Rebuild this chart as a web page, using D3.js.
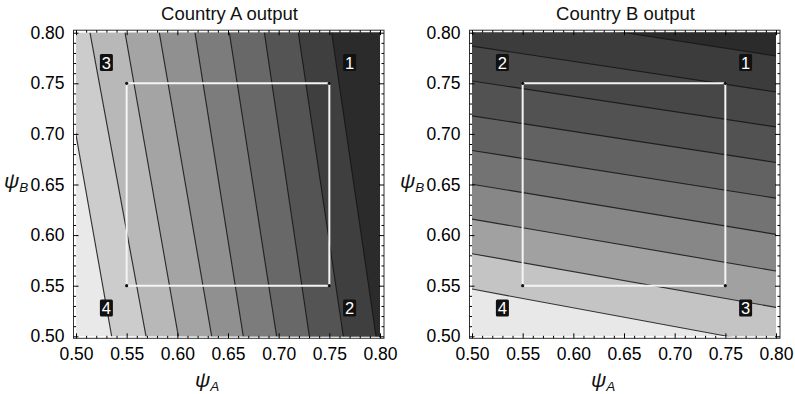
<!DOCTYPE html>
<html>
<head>
<meta charset="utf-8">
<script src="https://cdn.jsdelivr.net/npm/d3@7"></script>
<style>
  html, body { margin: 0; padding: 0; background: #fff; }
  svg { display: block; }
  text { font-family: "Liberation Sans", Arial, Helvetica, sans-serif; }
</style>
</head>
<body>
<svg id="chart" width="795" height="394"></svg>
<script>
// ---- data -------------------------------------------------------------
const titles = ["Country A output", "Country B output"];
const majorTicks = [0.50, 0.55, 0.60, 0.65, 0.70, 0.75, 0.80];
const tickLabels = ["0.50", "0.55", "0.60", "0.65", "0.70", "0.75", "0.80"];

// Contour lines of country A output, lowest level first: [psiA, psiB] points
const contoursA = [
  [[0.5000, 0.6990], [0.5352, 0.5000]],
  [[0.5138, 0.8000], [0.5691, 0.5000]],
  [[0.5484, 0.8000], [0.6010, 0.5000]],
  [[0.5822, 0.8000], [0.6339, 0.5000]],
  [[0.6174, 0.8000], [0.6651, 0.5000]],
  [[0.6513, 0.8000], [0.6980, 0.5000]],
  [[0.6859, 0.8000], [0.7303, 0.5000]],
  [[0.7194, 0.8000], [0.7638, 0.5000]],
  [[0.7523, 0.8000], [0.7961, 0.5000]]
];

// Contour lines of country B output, lowest level first
const contoursB = [
  [[0.5000, 0.5467], [0.7517, 0.5000]],
  [[0.5000, 0.5816], [0.8000, 0.5286]],
  [[0.5000, 0.6158], [0.8000, 0.5645]],
  [[0.5000, 0.6503], [0.8000, 0.6007]],
  [[0.5000, 0.6836], [0.8000, 0.6365]],
  [[0.5000, 0.7178], [0.8000, 0.6717]],
  [[0.5000, 0.7523], [0.8000, 0.7069]],
  [[0.5000, 0.7868], [0.8000, 0.7414]],
  [[0.6512, 0.8000], [0.8000, 0.7770]]
];

// Numbered regimes (corners of the square), listed in drawing order round the loop
const cornerLabelsA = ["1", "2", "4", "3"];
const cornerLabelsB = ["1", "3", "4", "2"];
const cornerPsiA = [0.75, 0.75, 0.55, 0.55];
const cornerPsiB = [0.75, 0.55, 0.55, 0.75];

// ---- drawing ----------------------------------------------------------
const svg = d3.select("#chart");

// grey level of each contour band (band 0 = lowest output)
const shadeA = d3.scaleLinear().domain([0, 1, 9]).range([0.915, 0.80, 0.17]);
const shadeB = d3.scaleLinear().domain([0, 1, 2, 3, 4, 6, 8, 9])
  .range([0.91, 0.77, 0.63, 0.53, 0.45, 0.32, 0.235, 0.17]);

const panels = [
  { title: titles[0], lines: contoursA, along: 1, labels: cornerLabelsA, dx: 0, shade: shadeA },
  { title: titles[1], lines: contoursB, along: 0, labels: cornerLabelsB, dx: 396, shade: shadeB }
];
const minorTicks = majorTicks.slice(1).flatMap((t, i) =>
  [1, 2, 3, 4].map(k => +(majorTicks[i] + k * 0.01).toFixed(2)));

const grey = v => { const c = Math.round(v * 255); return d3.rgb(c, c, c).formatHex(); };

// Extend a polyline past the plot edges along the given coordinate
function extendLine(pts, k) {
  const s = pts.slice().sort((a, b) => a[k] - b[k]);
  const at = (p, q, t) => {
    const f = (t - p[k]) / (q[k] - p[k]);
    return [p[0] + f * (q[0] - p[0]), p[1] + f * (q[1] - p[1])];
  };
  const n = s.length;
  return [at(s[0], s[1], 0.2), ...s, at(s[n - 2], s[n - 1], 1.1)];
}

panels.forEach((p, pi) => {
  const g = svg.append("g");
  const x = d3.scaleLinear().domain([0.5, 0.8]).range([76 + p.dx, 380 + p.dx]);
  const y = d3.scaleLinear().domain([0.5, 0.8]).range([336.3, 32.7]);
  const line = d3.line().x(d => x(d[0])).y(d => y(d[1]));

  const clipId = "clip" + pi;
  g.append("clipPath").attr("id", clipId).append("rect")
    .attr("x", x(0.5)).attr("y", y(0.8))
    .attr("width", x(0.8) - x(0.5)).attr("height", y(0.5) - y(0.8));

  const plot = g.append("g").attr("clip-path", `url(#${clipId})`);

  // lowest band fills the whole region
  plot.append("rect")
    .attr("x", x(0.5)).attr("y", y(0.8))
    .attr("width", x(0.8) - x(0.5)).attr("height", y(0.5) - y(0.8))
    .attr("fill", grey(p.shade(0)));

  const ext = p.lines.map(l => extendLine(l, p.along));

  // each higher band: the side of its contour where output is larger
  plot.selectAll("path.band").data(ext).join("path")
    .attr("class", "band")
    .attr("d", l => {
      const poly = p.along === 1
        ? [...l, [1.5, 1.1], [1.5, 0.2]]
        : [...l, [1.1, 1.5], [0.2, 1.5]];
      return line(poly) + "Z";
    })
    .attr("fill", (l, i) => grey(p.shade(i + 1)));

  plot.selectAll("path.contour").data(ext).join("path")
    .attr("class", "contour")
    .attr("d", line)
    .attr("fill", "none")
    .attr("stroke", "#151515")
    .attr("stroke-opacity", 0.85)
    .attr("stroke-width", 1.15);

  // square joining the four regimes
  const corners = p.labels.map((lab, i) => ({ lab, a: cornerPsiA[i], b: cornerPsiB[i] }));
  g.append("path")
    .attr("d", d3.line().x(d => x(d.a)).y(d => y(d.b)).curve(d3.curveLinearClosed)(corners))
    .attr("fill", "none")
    .attr("stroke", "#f4f4f4")
    .attr("stroke-width", 2);

  g.selectAll("circle.corner").data(corners).join("circle")
    .attr("class", "corner")
    .attr("cx", d => x(d.a)).attr("cy", d => y(d.b))
    .attr("r", 1.6).attr("fill", "#111");

  const tag = g.selectAll("g.tag").data(corners).join("g")
    .attr("class", "tag")
    .attr("transform", d => {
      const ox = d.a > 0.65 ? 0.02 : -0.02;
      const oy = d.b > 0.65 ? 0.0205 : -0.022;
      return `translate(${x(d.a + ox)},${y(d.b + oy)})`;
    });
  tag.append("rect")
    .attr("x", -6.5).attr("y", -8.5).attr("width", 13).attr("height", 17)
    .attr("rx", 1.5).attr("fill", "#111");
  tag.append("text")
    .attr("text-anchor", "middle").attr("dy", "0.36em")
    .attr("fill", "#fff").attr("font-size", 16.5)
    .text(d => d.lab);

  // frame
  const fl = x(0.5) - 2.5, fr = x(0.8) + 4, ft = y(0.8) - 2.5, fb = y(0.5) + 2;
  g.append("rect")
    .attr("x", fl).attr("y", ft).attr("width", fr - fl).attr("height", fb - ft)
    .attr("fill", "none").attr("stroke", "#333").attr("stroke-width", 1);

  const fmt = d => tickLabels[majorTicks.indexOf(d)];
  const axes = [
    [d3.axisBottom(x), `translate(0,${fb})`, true],
    [d3.axisTop(x), `translate(0,${ft})`, false],
    [d3.axisLeft(y), `translate(${fl},0)`, true],
    [d3.axisRight(y), `translate(${fr},0)`, false]
  ];
  axes.forEach(([ax, tr, lab]) => {
    const gm = g.append("g").attr("transform", tr)
      .call(ax.tickValues(minorTicks).tickSize(-2.5).tickFormat(""));
    gm.select(".domain").remove();
    const ga = g.append("g").attr("transform", tr)
      .call(ax.tickValues(majorTicks).tickSize(-5).tickPadding(9).tickFormat(lab ? fmt : ""));
    ga.select(".domain").remove();
    [gm, ga].forEach(a => a.attr("color", "#000").attr("font-family", null).attr("font-size", null));
    ga.selectAll("text").attr("font-size", 17.5).attr("fill", "#000");
  });

  // title
  g.append("text")
    .attr("x", (x(0.5) + x(0.8)) / 2 + 1.5).attr("y", 19.5)
    .attr("text-anchor", "middle").attr("font-size", 18.5).attr("fill", "#111")
    .text(p.title);

  // axis names
  const psiLabel = (px, py, sub) => {
    const t = g.append("text").attr("x", px).attr("y", py)
      .attr("font-family", "'Liberation Serif', 'DejaVu Serif', serif")
      .attr("font-style", "italic").attr("fill", "#111");
    t.append("tspan").attr("font-size", 21).text("ψ");
    t.append("tspan").attr("font-size", 13.5).attr("dy", 3.5).text(sub);
  };
  psiLabel(195 + p.dx, 387, "A");
  psiLabel(4 + p.dx, 188, "B");
});
</script>
</body>
</html>
